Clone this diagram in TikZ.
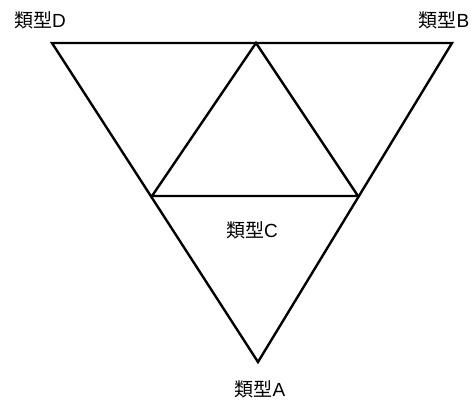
\documentclass[tikz,border=0pt]{standalone}
\usepackage{fontspec}
\newfontfamily\cjk{Noto Sans CJK JP}
\newfontfamily\lat{Liberation Sans}
\newcommand{\lb}[1]{{\cjk 類型}{\lat #1}}
\begin{document}
\begin{tikzpicture}[x=1pt,y=-1pt,
  edge/.style={line width=2.4pt,line join=miter},
  lbl/.style={font=\fontsize{19}{22}\selectfont,inner sep=0pt}]
\useasboundingbox (0,0) rectangle (475,405);
\coordinate (tl) at (52,43);
\coordinate (tr) at (452,43);
\coordinate (bt) at (258,362);
\coordinate (tm) at (256,43);
\coordinate (ml) at (152,196);
\coordinate (mr) at (358,196);
\draw[edge] (tl) -- (tr) -- (bt) -- cycle;
\draw[edge] (ml) -- (tm) -- (mr) -- cycle;
\node[lbl] (d) at (40,20) {\lb{D}};
\node[lbl] (b) at (444,20) {\lb{B}};
\node[lbl] (c) at (252,230) {\lb{C}};
\node[lbl] (a) at (260,389) {\lb{A}};
\end{tikzpicture}
\end{document}
